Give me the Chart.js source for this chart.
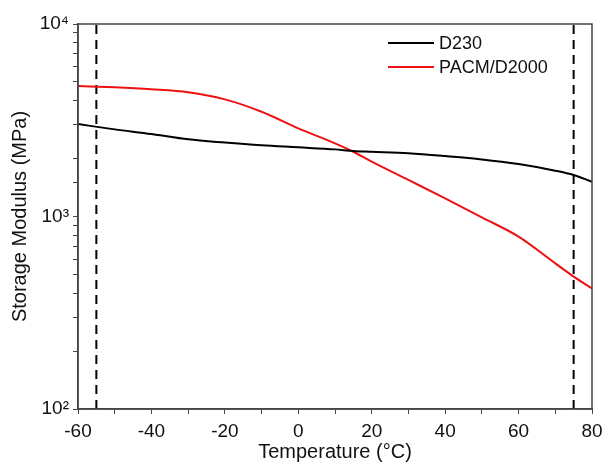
<!DOCTYPE html>
<html>
<head>
<meta charset="utf-8">
<script src="https://cdn.jsdelivr.net/npm/chart.js@4/dist/chart.umd.min.js"></script>
<style>
    html, body { margin: 0; padding: 0; background: #ffffff; }
    #wrap { width: 604px; height: 462px; }
</style>
</head>
<body>
<div id="wrap"><canvas id="modulusChart" width="604" height="462"></canvas></div>
<script>
// Temperature (°C)
var temperatures = [-60, -50, -40, -30, -20, -10, 0, 10, 15, 20, 30, 40, 50, 60, 70, 75, 80];

// Storage modulus (MPa)
var d230 = [3020, 2835, 2683, 2516, 2420, 2343, 2288, 2232, 2190, 2170, 2130, 2060, 1980, 1872, 1730, 1643, 1516];
var pacmD2000 = [4763, 4690, 4580, 4420, 4058, 3500, 2870, 2400, 2170, 1926, 1548, 1243, 990, 786, 571, 487, 423];

// Dashed reference lines (°C)
var markerTemps = [-55, 75];

var xTicks = [-60, -40, -20, 0, 20, 40, 60, 80];
var yRange = [100, 10000];

var FONT = 'Liberation Sans, Arial, sans-serif';

function toPoints(xs, ys)
{
    return xs.map(function (x, i) { return { x: x, y: ys[i] }; });
}

var datasets = [
    {
        label: 'D230',
        data: toPoints(temperatures, d230),
        borderColor: '#000000',
        borderWidth: 2,
        pointRadius: 0,
        cubicInterpolationMode: 'monotone'
    },
    {
        label: 'PACM/D2000',
        data: toPoints(temperatures, pacmD2000),
        borderColor: '#ee1111',
        borderWidth: 2,
        pointRadius: 0,
        cubicInterpolationMode: 'monotone'
    }
];

// Vertical dashed markers
markerTemps.forEach(function (t) {
    datasets.push({
        label: '',
        isMarker: true,
        data: [{ x: t, y: yRange[0] }, { x: t, y: yRange[1] }],
        borderColor: '#000000',
        borderWidth: 2,
        borderDash: [9, 6],
        pointRadius: 0
    });
});

// Box around the plot + legend in the top right corner
var framePlugin = {
    id: 'frame',
    afterDatasetsDraw: function (chart) {
        var ctx = chart.ctx;
        var a = chart.chartArea;
        ctx.save();
        ctx.strokeStyle = '#444444';
        ctx.lineWidth = 1.5;
        ctx.strokeRect(a.left, a.top, a.right - a.left, a.bottom - a.top);

        // Legend
        var items = chart.data.datasets.filter(function (d) { return !d.isMarker; });
        ctx.font = '18px ' + FONT;
        ctx.textBaseline = 'middle';
        ctx.fillStyle = '#111111';
        items.forEach(function (d, i) {
            var y = a.top + 19 + i * 24;
            ctx.strokeStyle = d.borderColor;
            ctx.lineWidth = 2;
            ctx.beginPath();
            ctx.moveTo(a.left + 310, y);
            ctx.lineTo(a.left + 356, y);
            ctx.stroke();
            ctx.fillText(d.label, a.left + 361, y + 1);
        });
        ctx.restore();
    }
};

var ctx = document.getElementById('modulusChart').getContext('2d');
window.myLine = new Chart(ctx, {
    type: 'line',
    data: { datasets: datasets },
    plugins: [framePlugin],
    options: {
        responsive: false,
        animation: false,
        layout: { padding: { top: 24, right: 12, left: 8, bottom: 0 } },
        plugins: {
            legend: { display: false },
            tooltip: { enabled: false }
        },
        scales: {
            x: {
                type: 'linear',
                min: -60,
                max: 80,
                afterBuildTicks: function (scale) {
                    var ticks = [];
                    for (var v = -60; v <= 80; v += 10) {
                        ticks.push({ value: v });
                    }
                    scale.ticks = ticks;
                },
                afterFit: function (scale) {
                    scale.height = 53;
                    scale.paddingLeft = 0;
                    scale.paddingRight = 0;
                },
                grid: {
                    drawOnChartArea: false,
                    drawTicks: true,
                    tickLength: 5,
                    color: '#444444'
                },
                border: { color: '#444444', width: 1.5 },
                ticks: {
                    color: '#111111',
                    padding: 6,
                    autoSkip: false,
                    maxRotation: 0,
                    font: { size: 19, family: FONT },
                    callback: function (v) { return xTicks.indexOf(v) >= 0 ? v : ''; }
                },
                title: {
                    display: true,
                    text: 'Temperature (°C)',
                    color: '#111111',
                    padding: { top: 0, bottom: -2 },
                    font: { size: 20, family: FONT }
                }
            },
            y: {
                type: 'logarithmic',
                min: yRange[0],
                max: yRange[1],
                afterFit: function (scale) {
                    scale.width = 70;
                    scale.paddingTop = 0;
                    scale.paddingBottom = 0;
                },
                grid: {
                    drawOnChartArea: false,
                    drawTicks: true,
                    tickLength: 5,
                    color: '#444444'
                },
                border: { color: '#444444', width: 1.5 },
                ticks: {
                    color: '#111111',
                    padding: 4,
                    autoSkip: false,
                    font: { size: 19, family: FONT },
                    callback: function (v) {
                        if (v === 100) return '10²';
                        if (v === 1000) return '10³';
                        if (v === 10000) return '10⁴';
                        return '';
                    }
                },
                title: {
                    display: true,
                    text: 'Storage Modulus (MPa)',
                    color: '#111111',
                    padding: { top: 0, bottom: 0 },
                    font: { size: 20, family: FONT }
                }
            }
        }
    }
});
</script>
</body>
</html>
